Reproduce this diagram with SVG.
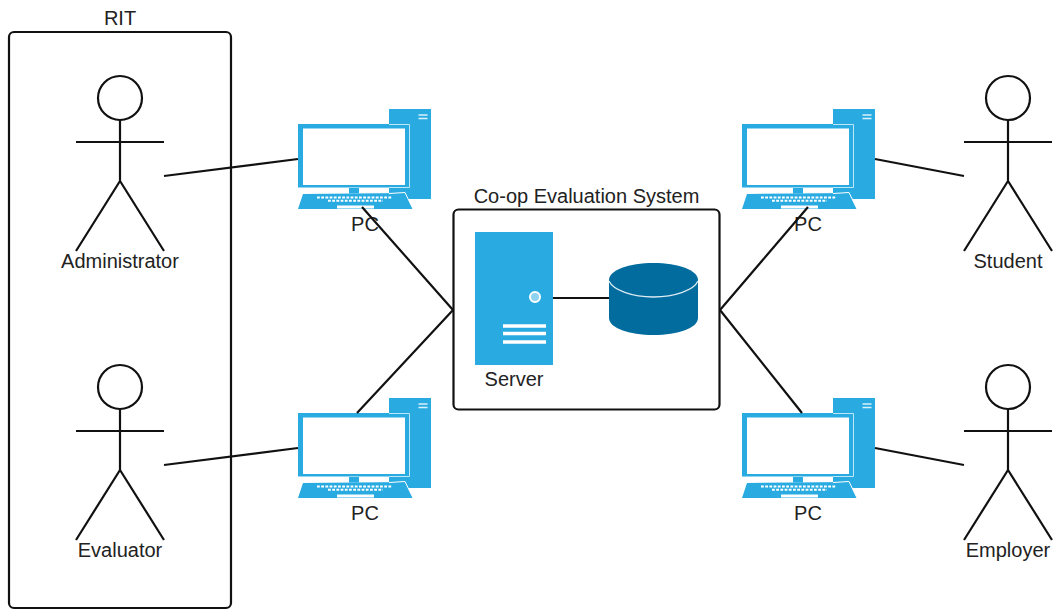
<svg xmlns="http://www.w3.org/2000/svg" xmlns:xlink="http://www.w3.org/1999/xlink" width="1055" height="610" viewBox="0 0 1055 610">
<style>
text{font-family:"Liberation Sans",Arial,sans-serif;font-size:20px;fill:#222;text-anchor:middle}
.s{fill:none;stroke:#111;stroke-width:2.2}
.b{fill:#fff;stroke:#111;stroke-width:2.2}
.c{fill:#29abe2}
.k{stroke:#fff;stroke-width:2;stroke-dasharray:2.800 1.400;fill:none}
.e{fill:none;stroke:#bde6f7;stroke-width:1}
</style>
<defs>
<g id="actor">
<circle class="s" cx="0" cy="0" r="22"/>
<path class="s" d="M0 22V83M-44 44H44M-44 153L0 83L44 153"/>
</g>
<g id="pc">
<rect class="c" x="91" y="9" width="42" height="90"/>
<path d="M129.500 15h-9M129.500 18.500h-9" stroke="#d8f1fb" stroke-width="1.700"/>
<rect class="c" x="0" y="24" width="112" height="63.500"/>
<path class="e" d="M91 24.500H111.500V87.500H91"/>
<rect x="5" y="28.500" width="102" height="56.500" fill="#fff"/>
<rect class="c" x="51" y="88" width="10" height="5.500"/>
<rect class="c" x="91" y="88" width="21" height="5"/>
<path class="c" d="M5 94L107 93L115 109H0Z"/>
<path d="M91 93.500L107 92.500L115 109" fill="none" stroke="#fff" stroke-width="1"/>
<path class="k" d="M19 97.500H94M30 100.800H85"/>
<rect x="39" y="105.500" width="37" height="3" fill="#fff"/>
</g>
</defs>
<g id="rit">
<rect class="s" x="9" y="32" width="222" height="576" rx="5"/>
<text x="120" y="25">RIT</text>
</g>
<g id="system">
<rect class="b" x="453.500" y="209.500" width="266" height="200" rx="5"/>
<text x="586.500" y="203">Co-op Evaluation System</text>
</g>
<g id="pc1"><use xlink:href="#pc" href="#pc" x="298" y="100"/><text x="365" y="231">PC</text></g>
<g id="pc2"><use xlink:href="#pc" href="#pc" x="298" y="389"/><text x="365" y="520">PC</text></g>
<g id="pc3"><use xlink:href="#pc" href="#pc" x="742" y="100"/><text x="808" y="231">PC</text></g>
<g id="pc4"><use xlink:href="#pc" href="#pc" x="742" y="389"/><text x="808" y="520">PC</text></g>
<g id="connectors">
<path class="s" d="M164 176L298 159M164 465L298 448M875 159L964 176M875 448L964 465M362 207L453 310M357 413L453 310M720 310L808 207M720 310L802 413M553 298H609"/>
</g>
<g id="administrator"><use xlink:href="#actor" href="#actor" x="120" y="98"/><text x="120" y="268">Administrator</text></g>
<g id="evaluator"><use xlink:href="#actor" href="#actor" x="120" y="387"/><text x="120" y="557">Evaluator</text></g>
<g id="student"><use xlink:href="#actor" href="#actor" x="1008" y="98"/><text x="1008" y="268">Student</text></g>
<g id="employer"><use xlink:href="#actor" href="#actor" x="1008" y="387"/><text x="1008" y="557">Employer</text></g>
<g id="server">
<rect class="c" x="475" y="232" width="78" height="133"/>
<circle cx="535" cy="297" r="5" fill="#8fd3f1" stroke="#fff" stroke-width="2"/>
<path d="M503 326H546M503 333.500H546M503 342H546" stroke="#fff" stroke-width="3.500"/>
<text x="514" y="386">Server</text>
</g>
<g id="database">
<path d="M609 280C609 270 629 263 653.500 263S698 270 698 280V318C698 328 678 335 653.500 335S609 328 609 318Z" fill="#026c9e"/>
<path d="M609 281C613 290 632 297 653.500 297S694 290 698 281" fill="none" stroke="#dcecf3" stroke-width="1.300"/>
</g>
</svg>
